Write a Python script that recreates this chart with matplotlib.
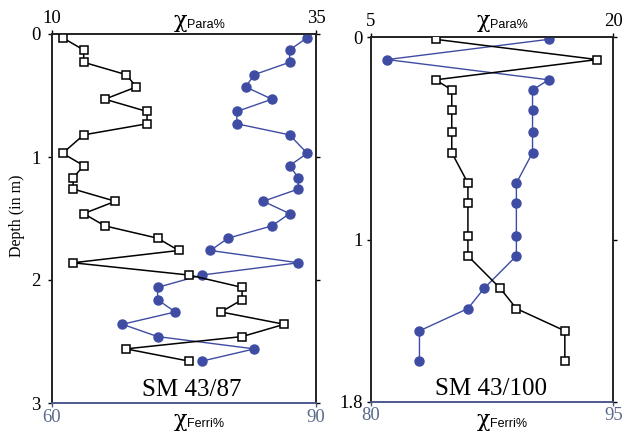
import matplotlib
matplotlib.use('Agg')
import matplotlib.pyplot as plt

# ---- data: SM 43/87 (left panel) ----
depth_87 = [0.03, 0.13, 0.23, 0.33, 0.43, 0.53, 0.63, 0.73, 0.82, 0.97,
            1.07, 1.17, 1.26, 1.36, 1.46, 1.56, 1.66, 1.76, 1.86, 1.96,
            2.06, 2.16, 2.26, 2.36, 2.46, 2.56, 2.66]
para_87 = [11, 13, 13, 17, 18, 15, 19, 19, 13, 11,
           13, 12, 12, 16, 13, 15, 20, 22, 12, 23,
           28, 28, 26, 32, 28, 17, 23]
ferri_87 = [89, 87, 87, 83, 82, 85, 81, 81, 87, 89,
            87, 88, 88, 84, 87, 85, 80, 78, 88, 77,
            72, 72, 74, 68, 72, 83, 77]

# ---- data: SM 43/100 (right panel) ----
depth_100 = [0.01, 0.11, 0.21, 0.26, 0.36, 0.47, 0.57, 0.72, 0.82, 0.98,
             1.08, 1.24, 1.34, 1.45, 1.60]
para_100 = [9, 19, 9, 10, 10, 10, 10, 11, 11, 11, 11, 13, 14, 17, 17]
ferri_100 = [91, 81, 91, 90, 90, 90, 90, 89, 89, 89, 89, 87, 86, 83, 83]

W, H = 624, 434
BLUE = '#3e4ca3'
AXBLUE = '#4d5a8c'
LBLBLUE = '#5a6a8c'
SERIF = 'Liberation Serif'
SANS = 'Liberation Sans'

fig = plt.figure(figsize=(W / 100, H / 100), dpi=100)


def rect(x0, y0, x1, y1):
    return [x0 / W, 1 - y1 / H, (x1 - x0) / W, (y1 - y0) / H]


def panel(r, depth, para, ferri, xlim_f, xlim_p, ylim, yticks, yticklabels,
          name, name_xfrac, split_x, ypad):
    ax = fig.add_axes(r)
    axt = ax.twiny()
    ax.plot(ferri, depth, '-', color=BLUE, lw=1.0, marker='o', ms=6.5,
            mfc=BLUE, mec=BLUE, zorder=3)
    axt.plot(para, depth, '-', color='black', lw=1.1, marker='s', ms=5.5,
             mfc='white', mec='black', mew=1.1, zorder=3)
    ax.set_xlim(*xlim_f)
    axt.set_xlim(*xlim_p)
    ax.set_ylim(*ylim)
    ax.set_xticks(list(xlim_f))
    ax.set_xticklabels([str(v) for v in xlim_f], color=LBLBLUE,
                       family=SERIF, fontsize=13.5)
    axt.set_xticks(list(xlim_p))
    axt.set_xticklabels([str(v) for v in xlim_p], family=SERIF, fontsize=13.5)
    ax.set_yticks(yticks)
    ax.set_yticklabels(yticklabels, family=SERIF, fontsize=13.5)
    ax.tick_params(axis='y', direction='out', length=3, width=1, pad=ypad,
                   right=True)
    ax.tick_params(axis='x', direction='out', length=3, width=1, pad=1,
                   color=AXBLUE)
    axt.tick_params(axis='x', direction='out', length=3, width=1, pad=2)
    for a in (ax, axt):
        for s in a.spines.values():
            s.set_linewidth(1.2)
            s.set_color('#222222')
        a.spines['bottom'].set_color(AXBLUE)
    ax.text(name_xfrac, 0.005, name, transform=ax.transAxes, ha='center',
            va='bottom', family=SERIF, fontsize=18)
    # axis titles (chi + label)
    for label, yb in (('Para%', 28), ('Ferri%', 427)):
        fig.text(split_x / W, 1 - (yb - 1) / H, 'χ', ha='right',
                 va='baseline', family='DejaVu Serif', fontsize=16)
        fig.text(split_x / W, 1 - yb / H, label, ha='left', va='baseline',
                 family=SANS, fontsize=9)
    return ax


axL = panel(rect(52, 34, 316, 403), depth_87, para_87, ferri_87,
            (60, 90), (10, 35), (3, 0), [0, 1, 2, 3], ['0', '1', '2', '3'],
            'SM 43/87', 0.53, 187, 5)
axR = panel(rect(371, 37.3, 613.3, 401.7), depth_100, para_100, ferri_100,
            (80, 95), (5, 20), (1.8, 0), [0, 1, 1.8], ['0', '1', '1.8'],
            'SM 43/100', 0.496, 490, 3)

fig.text(17 / W, 1 - 216 / H, 'Depth (in m)', rotation=90, ha='center',
         va='center', family=SERIF, fontsize=11.5)

fig.savefig('out.png', dpi=100)
